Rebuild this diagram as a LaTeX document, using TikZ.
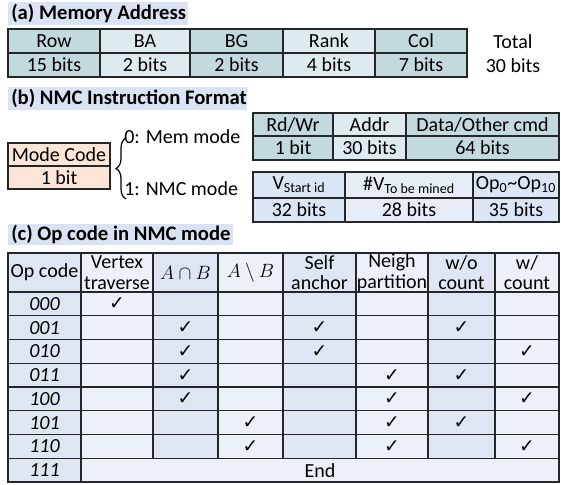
\documentclass[tikz,border=0pt]{standalone}
\usepackage{fontspec}
\setmainfont{Carlito}
\newfontfamily\symfont{DejaVu Sans}
\usetikzlibrary{decorations.pathreplacing}

\definecolor{titlebg}{HTML}{DAE3F3}
\definecolor{tealdark}{HTML}{C2D9DD}
\definecolor{teallight}{HTML}{DEEBEE}
\definecolor{peach}{HTML}{FBE5D6}
\definecolor{bluemid}{HTML}{DAE5F5}
\definecolor{bluelight}{HTML}{E6EDF7}
\definecolor{gridmid}{HTML}{DEE6F3}
\definecolor{gridlight}{HTML}{EBF0F9}

\tikzset{
  cellbox/.style={draw=black!85, line width=1pt, inner sep=0pt, align=center,
    font=\fontsize{15}{15.5}\selectfont},
  titletext/.style={inner sep=0pt, anchor=west, font=\fontsize{15.5}{16}\selectfont\bfseries},
  plaintext/.style={inner sep=0pt, font=\fontsize{15}{15.5}\selectfont},
  tick/.style={inner sep=0pt, font=\fontsize{14}{14}\selectfont\symfont}
}

% name, x1, y1, x2, y2, fill, text
\newcommand{\mkcell}[7]{%
  \node[cellbox, fill=#6, minimum width={((#4)-(#2))*0.75pt},
    minimum height={((#5)-(#3))*0.75pt}] (#1) at ({((#2)+(#4))/2},{((#3)+(#5))/2}) {#7};}

\begin{document}
\begin{tikzpicture}[x=0.75pt,y=0.75pt,yscale=-1,xscale=1]
    \useasboundingbox (0,0) rectangle (561,485);
    % (a) memory address
    \fill[titlebg] (8,2) rectangle (188,25);
    \node[titletext] (ttl-a) at (11,13.5) {(a) Memory Address};
    \foreach \c/\xa/\xb/\cfill/\top/\bot in {row/8/100/tealdark/Row/15 bits, ba/100/190/teallight/BA/2 bits,
        bg/190/283/tealdark/BG/2 bits, rank/283/375/teallight/Rank/4 bits, col/375/467/tealdark/Col/7 bits}
    {
      \mkcell{a-\c}{\xa}{29}{\xb}{53}{\cfill}{\top}
      \mkcell{a-\c-bits}{\xa}{53}{\xb}{77}{\cfill}{\bot}
    }
    \node[plaintext] (total) at (513,42) {Total};
    \node[plaintext] (total-bits) at (513,66) {30 bits};

    % (b) instruction format
    \fill[titlebg] (8,87) rectangle (247,110);
    \node[titletext] (ttl-b) at (11,98.5) {(b) NMC Instruction Format};
    \mkcell{mode}{8}{143}{110}{166}{peach}{Mode Code}
    \mkcell{mode-bits}{8}{166}{110}{189}{peach}{1 bit}
    \coordinate (brace-top) at (126,138);
    \coordinate (brace-bot) at (126,199);
    \draw[line width=0.9pt, decorate, decoration={brace, amplitude=7.5pt}] (brace-bot) -- (brace-top);
    \node[plaintext, anchor=west] (mem-mode) at (124,137) {0: Mem mode};
    \node[plaintext, anchor=west] (nmc-mode) at (124,189) {1: NMC mode};
    \mkcell{rdwr}{253}{113}{333}{136}{tealdark}{Rd/Wr}
    \mkcell{addr}{333}{113}{406}{136}{teallight}{Addr}
    \mkcell{data}{406}{113}{559}{136}{tealdark}{Data/Other cmd}
    \mkcell{rdwr-bits}{253}{136}{333}{160}{tealdark}{1 bit}
    \mkcell{addr-bits}{333}{136}{406}{160}{teallight}{30 bits}
    \mkcell{data-bits}{406}{136}{559}{160}{tealdark}{64 bits}
    \mkcell{vstart}{253}{172}{345}{198}{bluemid}{V\textsubscript{Start id}}
    \mkcell{vmined}{345}{172}{473}{198}{bluelight}{\#V\textsubscript{To be mined}}
    \mkcell{ops}{473}{172}{559}{198}{bluemid}{Op\textsubscript{0}\textasciitilde Op\textsubscript{10}}
    \mkcell{vstart-bits}{253}{198}{345}{222}{bluemid}{32 bits}
    \mkcell{vmined-bits}{345}{198}{473}{222}{bluelight}{28 bits}
    \mkcell{ops-bits}{473}{198}{559}{222}{bluemid}{35 bits}

    % (c) op code table
    \fill[titlebg] (8,224) rectangle (233,245);
    \node[titletext] (ttl-c) at (11,234.5) {(c) Op code in NMC mode};
    \foreach \c/\xa/\xb/\cfill/\htext in {0/8/81/gridmid/{Op code}, 1/81/153/gridlight/{Vertex\\traverse},
        2/153/218/gridmid/{$A\cap B$}, 3/218/283/gridlight/{$A\setminus B$}, 4/283/356/gridmid/{Self\\anchor},
        5/356/428/gridlight/{Neigh\\partition}, 6/428/495/gridmid/{w/o\\count}, 7/495/559/gridlight/{w/\\count}}
      \mkcell{hd-\c}{\xa}{253}{\xb}{292}{\cfill}{\htext};
    \foreach \c/\xa/\xb/\cfill in {1/81/153/gridlight, 2/153/218/gridmid, 3/218/283/gridlight, 4/283/356/gridmid,
        5/356/428/gridlight, 6/428/495/gridmid, 7/495/559/gridlight}
      \foreach \r in {1,...,7}
        \mkcell{c-\r-\c}{\xa}{292+(\r-1)*23.75}{\xb}{292+\r*23.75}{\cfill}{};
    \foreach \code [count=\r] in {000,001,010,011,100,101,110,111}
      \mkcell{op-\r}{8}{292+(\r-1)*23.75}{81}{292+\r*23.75}{gridmid}{\textit{\code}};
    \mkcell{c-end}{81}{458.25}{559}{482}{gridlight}{End}
    \foreach \r/\c in {1/1, 2/2, 2/4, 2/6, 3/2, 3/4, 3/7, 4/2, 4/5, 4/6,
        5/2, 5/5, 5/7, 6/3, 6/5, 6/6, 7/3, 7/5, 7/7}
      \node[tick] (tick-\r-\c) at (c-\r-\c) {✓};
\end{tikzpicture}
\end{document}
